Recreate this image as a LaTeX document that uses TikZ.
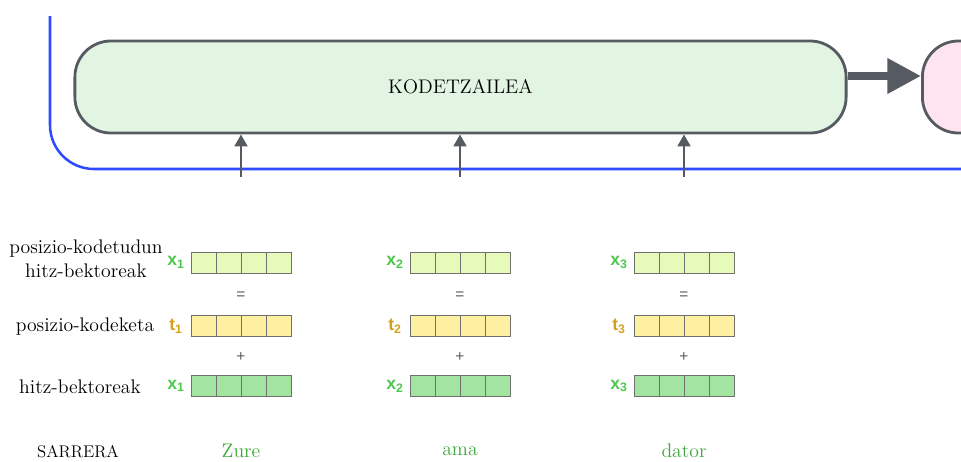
\documentclass[tikz,border=0pt]{standalone}
\usepackage{fontspec}
\newfontfamily\etiketa{Liberation Sans}
\usetikzlibrary{arrows.meta}
\definecolor{urdina}{RGB}{46,75,255}
\definecolor{grisa}{RGB}{85,91,97}
\definecolor{berdeargia}{RGB}{226,245,226}
\definecolor{arrosa}{RGB}{253,228,238}
\definecolor{horiberde}{RGB}{230,250,185}
\definecolor{horia}{RGB}{253,240,160}
\definecolor{berdea}{RGB}{163,228,160}
\definecolor{marra}{RGB}{112,112,112}
\definecolor{xberde}{RGB}{76,200,76}
\definecolor{tlaranja}{RGB}{212,162,26}
\definecolor{hitzberde}{RGB}{58,168,58}
\newcommand{\testua}{\fontsize{14}{16}\selectfont}

\tikzset{
	kutxa/.style={draw=grisa, line width=2pt, rounded corners=0.9cm, minimum height=2.3cm, font=\testua},
	gelaxka/.style={draw=marra, line width=0.6pt, minimum width=0.625cm, minimum height=0.525cm, inner sep=0pt},
	gezia/.style={grisa, line width=2pt, -{Triangle[length=8.5pt,width=9pt]}},
	geziahandia/.style={grisa, line width=5.7pt, -{Triangle[length=24pt,width=24pt]}},
	aldagaia/.style={font=\etiketa\bfseries\fontsize{12.5}{14}\selectfont, inner sep=0pt},
	ikurra/.style={grisa, font=\etiketa\fontsize{11}{12}\selectfont},
	izena/.style={font=\testua, align=center},
	hitza/.style={hitzberde, font=\testua}
}

\begin{document}
\begin{tikzpicture}[x=0.025cm,y=-0.025cm]
	\clip (0,0) rectangle (961,461);

	\draw[urdina, line width=1.8pt, rounded corners=1.1cm] (50,16) -- (50,169) -- (990,169);

	\node[kutxa, fill=berdeargia, minimum width=19.275cm] (enc) at (460.5,87) {KODETZAILEA};
	\node[kutxa, fill=arrosa, minimum width=5cm, anchor=west] (dec) at (921,87) {};
	\draw[geziahandia] (enc.east |- 0,76) -- (dec.west |- 0,76);

	\node[izena] (izena1) at (86,259) {posizio-kodetudun\\[1pt]hitz-bektoreak};
	\node[izena] (izena2) at (85,327) {posizio-kodeketa};
	\node[izena] (izena3) at (80,387) {hitz-bektoreak};
	\node[font=\fontsize{12}{14}\selectfont, inner sep=1pt] (sarrera) at (78,452) {SARRERA};

	\foreach \n/\x/\w in {1/191/Zure, 2/410/ama, 3/634/dator} {
		\foreach \i in {0,...,3} {
			\node[gelaxka, fill=horiberde] (p\n-\i) at (\x+12.5+25*\i,262.5) {};
			\node[gelaxka, fill=horia] (t\n-\i) at (\x+12.5+25*\i,326) {};
			\node[gelaxka, fill=berdea] (x\n-\i) at (\x+12.5+25*\i,386) {};
		}
		\node[aldagaia, xberde] (plab\n) at (\x-15,262.5) {x\textsubscript{\n}};
		\node[aldagaia, tlaranja] (tlab\n) at (\x-15,326) {t\textsubscript{\n}};
		\node[aldagaia, xberde] (xlab\n) at (\x-15,386) {x\textsubscript{\n}};
		\node[ikurra] (ber\n) at (\x+50,296) {=};
		\node[ikurra] (geh\n) at (\x+50,357) {+};
		\node[hitza, inner sep=1pt] (hitza\n) at (\x+50,451) {\w};
		\coordinate (oin\n) at (\x+50,177);
		\draw[gezia] (oin\n) -- (oin\n |- enc.south);
	}
\end{tikzpicture}
\end{document}
